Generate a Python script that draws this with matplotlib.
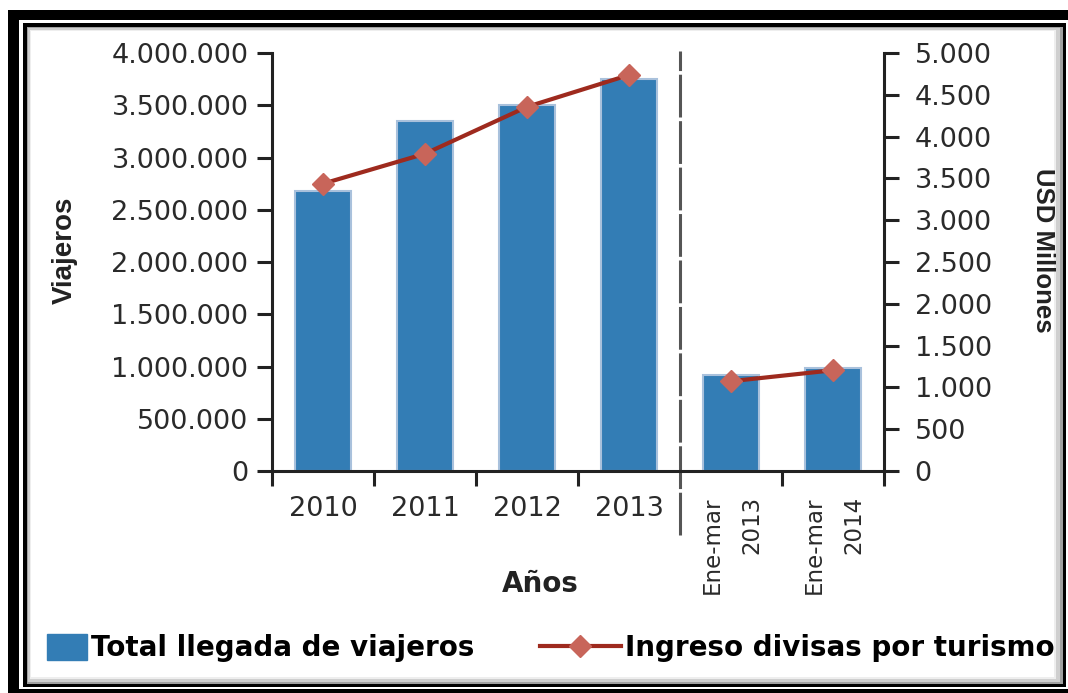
import numpy as np
import matplotlib.pyplot as plt
from matplotlib.patches import Rectangle
from matplotlib.lines import Line2D
from matplotlib.ticker import FuncFormatter

plt.rcParams['font.family'] = ['DejaVu Sans']

# --- datos ---
categorias = ['2010', '2011', '2012', '2013', 'Ene-mar\n2013', 'Ene-mar\n2014']
viajeros = [2680000, 3350000, 3500000, 3750000, 916000, 990000]
divisas = [3437, 3795, 4356, 4737, 1074, 1205]

AZUL = '#337db5'
ROJO = '#9e2a1e'
ROMBO = '#c8655a'

W, H = 1068, 693
fig = plt.figure(figsize=(W / 100, H / 100), dpi=100)


def caja(x0, y0, x1, y1, color):
    # rectangulo en pixeles (origen arriba a la izquierda), detras de los ejes
    fig.add_artist(Rectangle((x0 / W, 1 - y1 / H), (x1 - x0) / W, (y1 - y0) / H,
                             transform=fig.transFigure, color=color, lw=0, zorder=-5))


# marco doble con sombra
caja(8, 10, 1068, 693, 'black')
caja(19, 20, 1068, 689, 'white')
caja(23, 23, 1066, 687, 'black')
caja(27, 27, 1063, 684, '#a0a0a0')
caja(28, 28, 1060, 682, '#cfcfcf')
caja(30, 30, 1056, 679, '#eeeeee')
caja(31, 31, 1054, 677, 'white')

ax = fig.add_axes([272 / W, 222 / H, 612 / W, 418 / H])
ax2 = ax.twinx()
ax.set_zorder(ax2.get_zorder() - 1)
ax.patch.set_visible(False)
ax2.patch.set_visible(False)

x = np.arange(len(categorias))
ax.bar(x, viajeros, width=0.55, color=AZUL, edgecolor='#a9c1dc', linewidth=1.5, zorder=2)

# linea separada en dos tramos
estilo = dict(color=ROJO, lw=3, marker='D', ms=11, mfc=ROMBO, mec=ROMBO, zorder=3)
ax2.plot(x[:4], divisas[:4], **estilo)
ax2.plot(x[4:], divisas[4:], **estilo)

ax.set_xlim(-0.5, 5.5)
ax.set_ylim(0, 4000000)
ax2.set_ylim(0, 5000)
ax.set_yticks(np.arange(0, 4000001, 500000))
ax2.set_yticks(np.arange(0, 5001, 500))

fmt = FuncFormatter(lambda v, p: f'{int(v):,}'.replace(',', '.'))
ax.yaxis.set_major_formatter(fmt)
ax2.yaxis.set_major_formatter(fmt)

for a in (ax, ax2):
    a.spines['top'].set_visible(False)
    for s in a.spines.values():
        s.set_linewidth(2.2)
        s.set_color('#222222')
ax.spines['right'].set_visible(False)
ax2.spines['left'].set_visible(False)
ax2.spines['bottom'].set_visible(False)

ax.tick_params(axis='y', length=11, width=2.2, colors='#222222', labelsize=19.5, pad=6,
               labelcolor='#2a2a2a')
ax2.tick_params(axis='y', length=11, width=2.2, colors='#222222', labelsize=19.5, pad=11,
                labelcolor='#2a2a2a')

ax.set_xticks(x)
ax.set_xticklabels(categorias[:4] + [''] * 2)
ax.tick_params(axis='x', length=0, labelsize=19.5, pad=18, labelcolor='#2a2a2a')
ax.set_xticks([-0.5, 0.5, 1.5, 2.5, 4.5, 5.5], minor=True)
ax.tick_params(axis='x', which='minor', length=11, width=2.2, colors='#222222')

for xi, lab in zip(x[4:], categorias[4:]):
    ax.text(xi + 0.01, -0.06, lab, transform=ax.get_xaxis_transform(), rotation=90,
            ha='center', va='top', fontsize=16.5, color='#2a2a2a', linespacing=1.95,
            multialignment='right')

# separador discontinuo
ax.plot([3.5, 3.5], [-0.153, 1.005], transform=ax.get_xaxis_transform(), clip_on=False,
        color='#555555', lw=2.2, dashes=(14, 1.2), zorder=1)

ax.set_ylabel('Viajeros', fontsize=20, fontweight='bold', color='#222222',
              family='Liberation Sans')
ax.yaxis.set_label_coords(-0.318, 0.529)
ax2.set_ylabel('USD Millones', fontsize=18.5, fontweight='bold', rotation=270,
               color='#222222', family='Liberation Sans', va='center')
ax2.yaxis.set_label_coords(1.26, 0.529)
ax.set_xlabel('Años', fontsize=20, fontweight='bold', color='#222222')
ax.xaxis.set_label_coords(0.438, -0.238)

# leyenda
h_barra = Rectangle((0, 0), 1, 1, color=AZUL)
h_linea = Line2D([], [], **estilo)
fig.legend([h_barra], ['Total llegada de viajeros'], loc='center left',
           bbox_to_anchor=(22 / W, 1 - 648 / H), frameon=False,
           prop={'size': 20, 'weight': 'bold'}, handlelength=1.45, handleheight=1.05,
           handletextpad=0.15)
fig.legend([h_linea], ['Ingreso divisas por turismo'], loc='center left',
           bbox_to_anchor=(515 / W, 1 - 648 / H), frameon=False,
           prop={'size': 20, 'weight': 'bold'}, handlelength=2.9, handletextpad=0.15)

fig.savefig('out.png', dpi=100)
